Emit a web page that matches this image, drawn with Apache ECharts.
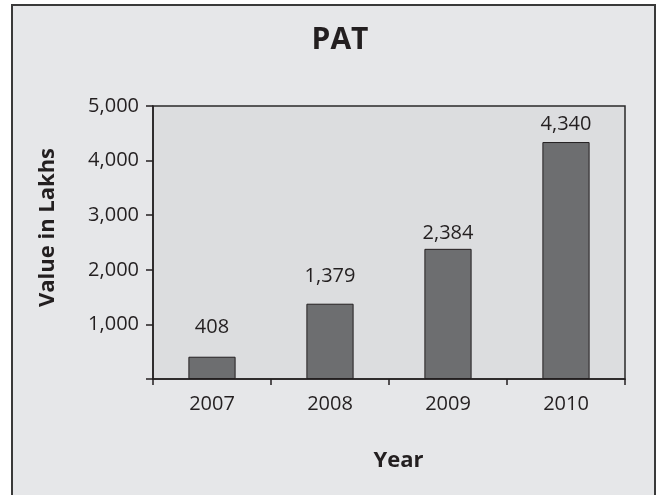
<!DOCTYPE html>
<html><head><meta charset="utf-8">
<script src="https://cdn.jsdelivr.net/npm/echarts@6/dist/echarts.min.js"></script>
<style>html,body{margin:0;padding:0;background:#fff}#c{width:657px;height:495px}</style>
</head><body><div id="c"></div>
<script>
const categories = ['2007', '2008', '2009', '2010'];
const values = [408, 1379, 2384, 4340];
const yTicks = [0, 1000, 2000, 3000, 4000, 5000];

// label spacing above each bar (styling only)
const labelGaps = [19, 17, 6, 8];

const fmt = v => v === 0 ? '' : v.toLocaleString('en-US');
const chart = echarts.init(document.getElementById('c'));
const font = '"Open Sans", "Noto Sans", sans-serif';
chart.setOption({
  animation: false,
  textStyle: { fontFamily: font },
  graphic: [{
    type: 'rect', z: -10, silent: true,
    shape: { x: 12, y: 5, width: 643, height: 500 },
    style: { fill: '#e6e7e9', stroke: '#3a3a3a', lineWidth: 2 }
  }],
  title: {
    text: 'PAT', left: 335, textAlign: 'center', top: 20,
    textStyle: { fontFamily: font, fontSize: 30, fontWeight: 'bold', color: '#231f20' }
  },
  grid: {
    left: 153, right: 32, top: 106, bottom: 116, show: true,
    backgroundColor: '#dcdddf', borderColor: '#2a2a2a', borderWidth: 1.5
  },
  xAxis: {
    type: 'category', data: categories,
    name: 'Year', nameLocation: 'middle', nameGap: 71,
    nameTextStyle: { fontFamily: font, fontSize: 22, fontWeight: 'bold', color: '#231f20', padding: [0, 0, 0, 19] },
    axisLine: { lineStyle: { color: '#231f20', width: 1.5 } },
    axisTick: { show: true, length: 6, alignWithLabel: false, lineStyle: { color: '#231f20', width: 1.5 } },
    axisLabel: { fontSize: 20, color: '#231f20', margin: 15 }
  },
  yAxis: {
    type: 'value', min: yTicks[0], max: yTicks[yTicks.length - 1], interval: 1000,
    name: 'Value in Lakhs', nameLocation: 'middle', nameGap: 94,
    nameTextStyle: { fontFamily: font, fontSize: 22, fontWeight: 'bold', color: '#231f20', padding: [0, 0, 0, 30] },
    axisLine: { show: true, lineStyle: { color: '#231f20', width: 1.5 } },
    axisTick: { show: true, length: 7, lineStyle: { color: '#231f20', width: 1.5 } },
    splitLine: { show: false },
    axisLabel: { fontSize: 20, color: '#231f20', margin: 14, formatter: fmt }
  },
  series: [{
    type: 'bar', barWidth: '40%',
    data: values.map((v, i) => ({ value: v, label: { distance: labelGaps[i] } })),
    itemStyle: { color: '#6d6e70', borderColor: '#231f20', borderWidth: 1 },
    label: {
      show: true, position: 'top', fontSize: 20, color: '#231f20',
      formatter: p => p.value.toLocaleString('en-US')
    }
  }]
});
</script></body></html>
